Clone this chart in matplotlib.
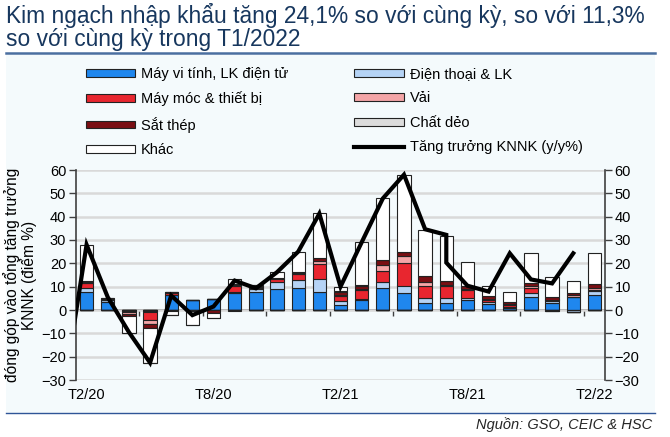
import matplotlib
matplotlib.use("Agg")
import matplotlib.pyplot as plt
import numpy as np
from matplotlib.patches import Rectangle
from matplotlib.lines import Line2D

plt.rcParams['font.family'] = ['Liberation Sans', 'DejaVu Sans']

# months shown on the category axis
months = ["T2/20", "T3/20", "T4/20", "T5/20", "T6/20", "T7/20", "T8/20", "T9/20",
          "T10/20", "T11/20", "T12/20", "T1/21", "T2/21", "T3/21", "T4/21", "T5/21",
          "T6/21", "T7/21", "T8/21", "T9/21", "T10/21", "T11/21", "T12/21", "T1/22", "T2/22"]
tick_labels = ["T2/20", "T8/20", "T2/21", "T8/21", "T2/22"]

# contribution to import growth (percentage points)
may_vi_tinh = [7.8, 3.6, 0.0, -0.3, 6.4, 4.1, 4.9, 7.1, 7.9, 8.9, 9.3, 7.7, 2.1,
               4.3, 9.3, 7.1, 2.9, 2.9, 4.3, 2.4, 0.8, 5.7, 3.1, 5.4, 6.4]
dien_thoai = [1.7, 0.5, -0.5, -0.7, 0.0, 0.0, 0.0, 0.7, 1.0, 3.3, 3.6, 5.8, 1.6,
              0.3, 2.6, 3.4, 2.1, 2.1, 0.7, 1.1, 0.3, 1.4, 0.7, -1.0, 1.9]
may_moc = [2.1, 0.2, -0.3, -3.3, 1.0, 0.0, 0.0, 2.4, 0.7, 1.0, 2.6, 6.1, 2.3,
           4.0, 4.9, 9.6, 5.4, 5.2, 3.5, 0.8, 1.0, 2.4, 0.4, 0.0, 0.3]
vai = [0.3, 0.1, -1.0, -1.9, 0.0, 0.0, 0.0, 0.5, 0.3, 0.4, 0.3, 1.2, 0.4,
       0.3, 2.6, 3.0, 1.4, 0.6, 0.4, 0.4, 0.3, 0.6, 0.3, 1.0, 0.7]
sat_thep = [0.4, 0.3, -0.8, -1.7, 0.3, -0.4, -1.1, 0.6, 0.5, 0.2, 0.4, 1.5, 1.5,
            1.5, 2.1, 1.7, 2.7, 1.6, 1.2, 1.4, 1.2, 1.5, 1.2, 1.0, 1.7]
chat_deo = [0.2, 0.3, 0.0, 0.0, -0.4, 0.0, 0.0, 0.0, 0.3, 0.0, 0.0, 0.2, 0.3,
            0.3, 0.0, 0.0, 0.0, 0.2, 0.3, 0.0, 0.0, 0.0, -0.5, 0.0, 0.0]
khac = [15.4, 0.0, -7.3, -15.0, -1.7, -6.0, -2.3, 2.0, 0.0, 2.3, 8.5, 18.9, 1.8,
        18.3, 26.4, 33.2, 19.8, 19.3, 10.0, 4.2, 4.3, 12.7, 8.3, 5.2, 13.6]
khac_neg = [0.0, 0.0, 0.0, 0.0, 0.0, 0.0, 0.0, -0.4, 0.0, 0.0, 0.0, 0.0, 0.0,
            0.0, 0.0, 0.0, 0.0, 0.0, 0.0, 0.0, 0.0, 0.0, 0.0, 0.0, 0.0]

# import growth line (y/y %), one point before the chart, a repeated point at T7/21
growth_pos = [-1, 0, 1, 2, 3, 4, 5, 6, 7, 8, 9, 10, 11, 12, 13, 14, 15, 16, 17, 17,
              18, 19, 20, 21, 22, 23]
growth = [-30.0, 28.0, 5.5, -9.5, -22.6, 6.2, -2.2, 1.5, 12.6, 9.3, 16.2, 25.0, 41.3,
          10.0, 29.0, 47.8, 58.0, 34.6, 32.2, 20.3, 10.4, 7.9, 24.3, 13.1, 11.4, 24.3]

series = [
    ("Máy vi tính, LK điện tử", may_vi_tinh, "#1f87ee"),
    ("Điện thoại & LK", dien_thoai, "#b5d3f5"),
    ("Máy móc & thiết bị", may_moc, "#e8262f"),
    ("Vải", vai, "#f4a5a7"),
    ("Sắt thép", sat_thep, "#7a0e13"),
    ("Chất dẻo", chat_deo, "#dcdcdc"),
    ("Khác", khac, "#ffffff"),
]

panel_bg = "#f4fafc"
fig = plt.figure(figsize=(6.7, 4.37), dpi=100)
fig.patch.set_facecolor("white")

# light panel behind legend and chart
fig.add_artist(Rectangle((6 / 670, 1 - 413 / 437), 649 / 670, (413 - 55) / 437,
                         transform=fig.transFigure, facecolor=panel_bg, edgecolor="none", zorder=-5))
fig.add_artist(Line2D([6 / 670, 655 / 670], [1 - 53 / 437, 1 - 53 / 437],
                      transform=fig.transFigure, color="#4a6fa0", lw=1.8))
fig.add_artist(Line2D([6 / 670, 655 / 670], [1 - 413 / 437, 1 - 413 / 437],
                      transform=fig.transFigure, color="#2f5597", lw=1.0))

fig.text(6 / 670, 1 - 3 / 437,
         "Kim ngạch nhập khẩu tăng 24,1% so với cùng kỳ, so với 11,3%\nso với cùng kỳ trong T1/2022",
         ha="left", va="top", fontsize=16.4, color="#17375e", linespacing=1.0)
fig.text(652 / 670, 1 - 425 / 437, "Nguồn: GSO, CEIC & HSC", ha="right", va="center",
         fontsize=10.5, style="italic", color="#262626")

ax = fig.add_axes([76 / 670, 1 - 380 / 437, 529 / 670, 210 / 437])
ax.set_facecolor(panel_bg)

x = np.arange(len(months))
pos_bottom = np.zeros(len(months))
neg_bottom = np.zeros(len(months))
handles = {}
for name, vals, color in series:
    v = np.array(vals)
    pv = np.where(v > 0, v, 0)
    nv = np.where(v < 0, v, 0)
    b = ax.bar(x, pv, 0.63, bottom=pos_bottom, color=color, edgecolor="#222222",
               linewidth=0.8, zorder=3, label=name)
    ax.bar(x, nv, 0.63, bottom=neg_bottom, color=color, edgecolor="#222222",
           linewidth=0.8, zorder=3)
    pos_bottom += pv
    neg_bottom += nv
    handles[name] = b
ax.bar(x, khac_neg, 0.63, bottom=neg_bottom, color="#ffffff", edgecolor="#222222",
       linewidth=0.8, zorder=3)

line, = ax.plot(growth_pos, growth, color="black", lw=3.0, zorder=5,
                label="Tăng trưởng KNNK (y/y%)", solid_joinstyle="miter")

ax.set_xlim(-0.5, len(months) - 0.5)
ax.set_ylim(-30, 60)
ax.set_yticks(range(-30, 61, 10))
ax.grid(axis="y", color="#d9d9d9", lw=1.8, zorder=0)
ax.set_xticks([months.index(t) for t in tick_labels])
ax.set_xticklabels(tick_labels, fontsize=10.5)
ax.tick_params(axis="x", length=0, pad=6)
ax.tick_params(axis="y", labelsize=10.5, length=5, color="#404040", width=1, pad=2)
for s in ["top", "bottom"]:
    ax.spines[s].set_visible(False)
ax.spines["left"].set_color("#404040")
ax.spines["left"].set_linewidth(1.2)
ax.spines["right"].set_visible(False)

# right axis, same scale
ax2 = ax.twinx()
ax2.set_ylim(-30, 60)
ax2.set_yticks(range(-30, 61, 10))
ax2.tick_params(axis="y", labelsize=10.5, length=5, color="#404040", width=1, pad=2)
for s in ["top", "bottom", "left"]:
    ax2.spines[s].set_visible(False)
ax2.spines["right"].set_color("#404040")
ax2.spines["right"].set_linewidth(1.2)

# zero line with category ticks
zero_ax = ax.secondary_xaxis(30 / 90)
zero_ax.set_xticks(np.arange(2.5, len(months), 3))
zero_ax.tick_params(length=4, color="#404040", width=1, labelbottom=False, labeltop=False)
zero_ax.spines["bottom"].set_color("#404040")
zero_ax.spines["bottom"].set_linewidth(1.2)

ax.set_ylabel("đóng góp vào tổng tăng trưởng\nKNNK (điểm %)", fontsize=11.2, labelpad=3,
              linespacing=1.0)

order = ["Máy vi tính, LK điện tử", "Máy móc & thiết bị", "Sắt thép", "Khác",
         "Điện thoại & LK", "Vải", "Chất dẻo"]
leg_handles = [handles[n] for n in order[:4]] + [handles[n] for n in order[4:]] + [line]
leg_labels = order + ["Tăng trưởng KNNK (y/y%)"]
fig.legend(leg_handles, leg_labels, ncol=2, loc="upper left",
           bbox_to_anchor=(80 / 670, 1 - 61 / 437), frameon=False, fontsize=10.5,
           handlelength=3.4, handleheight=0.45, handletextpad=0.4, labelspacing=0.72,
           columnspacing=4.5, borderaxespad=0)

fig.savefig("out.png", dpi=100, facecolor=fig.get_facecolor())
